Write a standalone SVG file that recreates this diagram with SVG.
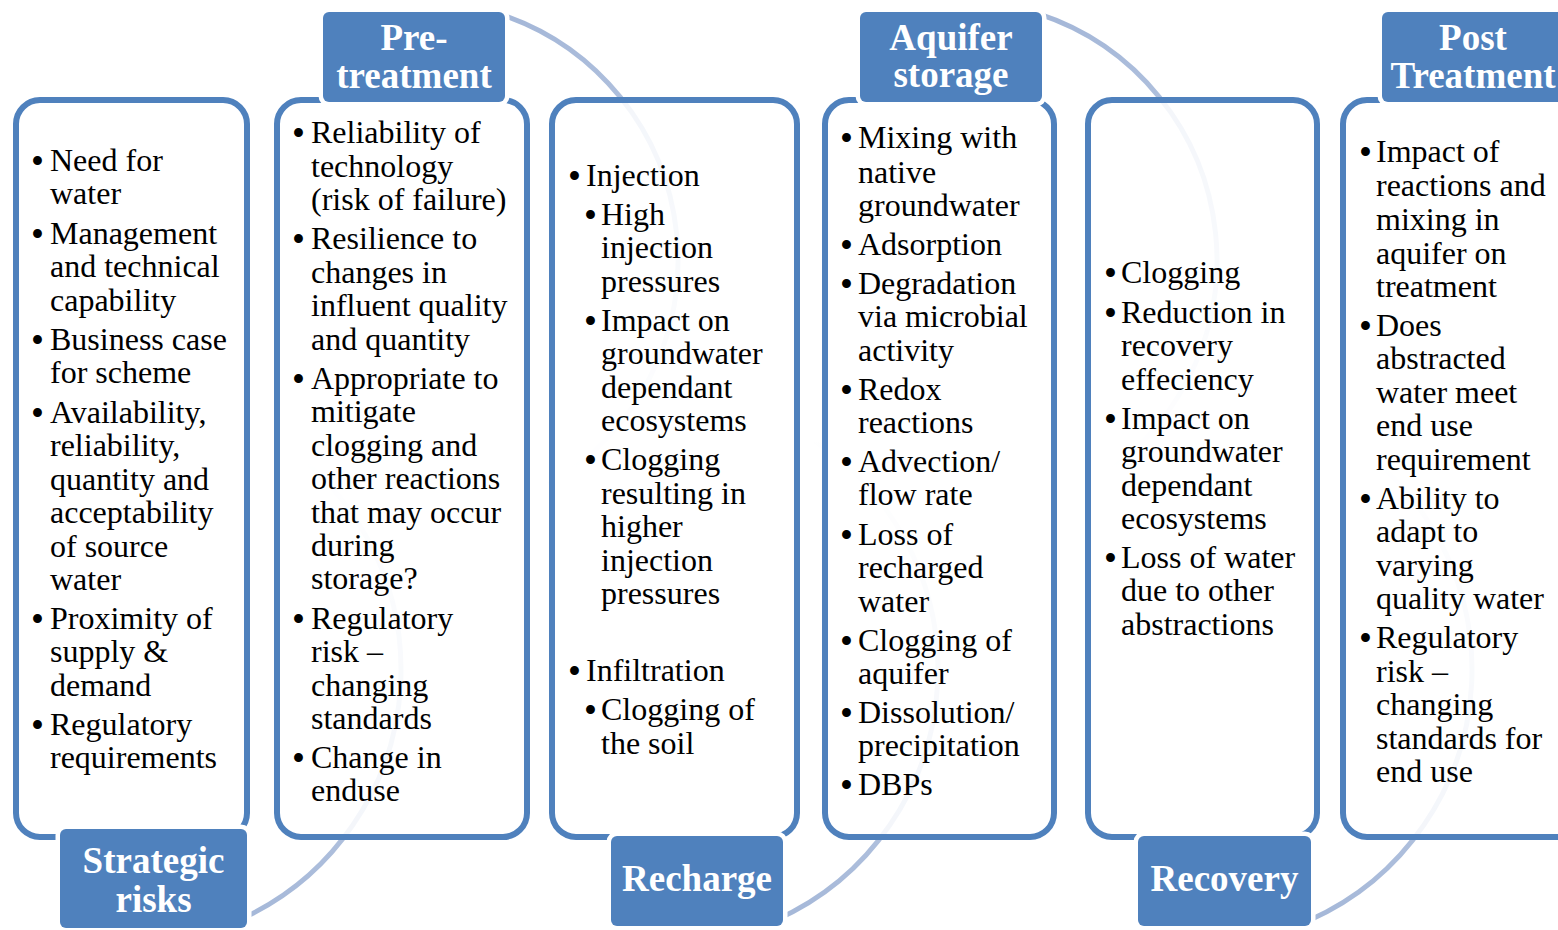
<svg xmlns="http://www.w3.org/2000/svg" width="1558" height="930" viewBox="0 0 1558 930">
<defs>
<linearGradient id="gB" gradientUnits="userSpaceOnUse" x1="0" y1="930" x2="0" y2="440">
<stop offset="0" stop-color="#a4b7d8" stop-opacity="1"/>
<stop offset="0.25" stop-color="#a4b7d8" stop-opacity="0.85"/>
<stop offset="1" stop-color="#a4b7d8" stop-opacity="0"/>
</linearGradient>
<linearGradient id="gT" gradientUnits="userSpaceOnUse" x1="0" y1="10" x2="0" y2="490">
<stop offset="0" stop-color="#a4b7d8" stop-opacity="1"/>
<stop offset="0.25" stop-color="#a4b7d8" stop-opacity="0.85"/>
<stop offset="1" stop-color="#a4b7d8" stop-opacity="0"/>
</linearGradient>
<style>
.box{fill:#fff;fill-opacity:0.86;stroke:#4f81bd;stroke-width:6}
.lbl{fill:#4f81bd;stroke:#fff;stroke-width:9;paint-order:stroke}
.lt{font-family:"Liberation Serif","Times New Roman",serif;font-weight:bold;font-size:37px;fill:#fff;text-anchor:middle}
.t{font-family:"Liberation Serif","Times New Roman",serif;font-size:32px;fill:#000}
.b{font-size:37px;baseline-shift:-3px}
.arcB{fill:none;stroke:url(#gB);stroke-width:5}
.arcT{fill:none;stroke:url(#gT);stroke-width:5}
</style>
</defs>
<rect width="1558" height="930" fill="#fff"/>
<g id="connectors">
<path class="arcB" d="M238.4,920.3 A274,274 0 0 0 264,432.7"/>
<path class="arcT" d="M499,13.7 A259,259 0 0 1 548.5,484.3"/>
<path class="arcB" d="M775.4,920.3 A274,274 0 0 0 801,432.7"/>
<path class="arcT" d="M1038,13.7 A259,259 0 0 1 1087.5,484.3"/>
<path class="arcB" d="M1309.4,920.3 A274,274 0 0 0 1335,432.7"/>
</g>
<g id="strategic">
<rect class="box" x="16" y="100" width="231" height="737" rx="24"/>
<text class="t">
<tspan class="b" x="31" y="171">•</tspan><tspan x="50" y="171">Need for</tspan><tspan x="50" y="204">water</tspan>
<tspan class="b" x="31" y="244">•</tspan><tspan x="50" y="244">Management</tspan><tspan x="50" y="277">and technical</tspan><tspan x="50" y="311">capability</tspan>
<tspan class="b" x="31" y="350">•</tspan><tspan x="50" y="350">Business case</tspan><tspan x="50" y="383">for scheme</tspan>
<tspan class="b" x="31" y="423">•</tspan><tspan x="50" y="423">Availability,</tspan><tspan x="50" y="456">reliability,</tspan><tspan x="50" y="490">quantity and</tspan><tspan x="50" y="523">acceptability</tspan><tspan x="50" y="557">of source</tspan><tspan x="50" y="590">water</tspan>
<tspan class="b" x="31" y="629">•</tspan><tspan x="50" y="629">Proximity of</tspan><tspan x="50" y="662">supply &amp;</tspan><tspan x="50" y="696">demand</tspan>
<tspan class="b" x="31" y="735">•</tspan><tspan x="50" y="735">Regulatory</tspan><tspan x="50" y="768">requirements</tspan>
</text>
<rect class="lbl" x="60" y="829" width="187" height="99" rx="6"/>
<text class="lt"><tspan x="153.5" y="873">Strategic</tspan><tspan x="153.5" y="912">risks</tspan></text>
</g>
<g id="pretreatment">
<rect class="box" x="277" y="100" width="250" height="737" rx="24"/>
<text class="t">
<tspan class="b" x="292" y="143">•</tspan><tspan x="311" y="143">Reliability of</tspan><tspan x="311" y="177">technology</tspan><tspan x="311" y="210">(risk of failure)</tspan>
<tspan class="b" x="292" y="249">•</tspan><tspan x="311" y="249">Resilience to</tspan><tspan x="311" y="283">changes in</tspan><tspan x="311" y="316">influent quality</tspan><tspan x="311" y="350">and quantity</tspan>
<tspan class="b" x="292" y="389">•</tspan><tspan x="311" y="389">Appropriate to</tspan><tspan x="311" y="422">mitigate</tspan><tspan x="311" y="456">clogging and</tspan><tspan x="311" y="489">other reactions</tspan><tspan x="311" y="523">that may occur</tspan><tspan x="311" y="556">during</tspan><tspan x="311" y="589">storage?</tspan>
<tspan class="b" x="292" y="629">•</tspan><tspan x="311" y="629">Regulatory</tspan><tspan x="311" y="662">risk –</tspan><tspan x="311" y="696">changing</tspan><tspan x="311" y="729">standards</tspan>
<tspan class="b" x="292" y="768">•</tspan><tspan x="311" y="768">Change in</tspan><tspan x="311" y="801">enduse</tspan>
</text>
<rect class="lbl" x="323" y="12" width="182" height="90" rx="6"/>
<text class="lt"><tspan x="414" y="50">Pre-</tspan><tspan x="414" y="88">treatment</tspan></text>
</g>
<g id="recharge">
<rect class="box" x="552" y="100" width="245" height="737" rx="24"/>
<text class="t">
<tspan class="b" x="568" y="186">•</tspan><tspan x="586" y="186">Injection</tspan>
<tspan class="b" x="584" y="225">•</tspan><tspan x="601" y="225">High</tspan><tspan x="601" y="258">injection</tspan><tspan x="601" y="292">pressures</tspan>
<tspan class="b" x="584" y="331">•</tspan><tspan x="601" y="331">Impact on</tspan><tspan x="601" y="364">groundwater</tspan><tspan x="601" y="398">dependant</tspan><tspan x="601" y="431">ecosystems</tspan>
<tspan class="b" x="584" y="470">•</tspan><tspan x="601" y="470">Clogging</tspan><tspan x="601" y="504">resulting in</tspan><tspan x="601" y="537">higher</tspan><tspan x="601" y="571">injection</tspan><tspan x="601" y="604">pressures</tspan>
<tspan class="b" x="568" y="681">•</tspan><tspan x="586" y="681">Infiltration</tspan>
<tspan class="b" x="584" y="720">•</tspan><tspan x="601" y="720">Clogging of</tspan><tspan x="601" y="754">the soil</tspan>
</text>
<rect class="lbl" x="611" y="836" width="172" height="90" rx="6"/>
<text class="lt"><tspan x="697" y="891">Recharge</tspan></text>
</g>
<g id="aquifer">
<rect class="box" x="825" y="100" width="229" height="737" rx="24"/>
<text class="t">
<tspan class="b" x="840" y="148">•</tspan><tspan x="858" y="148">Mixing with</tspan><tspan x="858" y="183">native</tspan><tspan x="858" y="216">groundwater</tspan>
<tspan class="b" x="840" y="255">•</tspan><tspan x="858" y="255">Adsorption</tspan>
<tspan class="b" x="840" y="294">•</tspan><tspan x="858" y="294">Degradation</tspan><tspan x="858" y="327">via microbial</tspan><tspan x="858" y="361">activity</tspan>
<tspan class="b" x="840" y="400">•</tspan><tspan x="858" y="400">Redox</tspan><tspan x="858" y="433">reactions</tspan>
<tspan class="b" x="840" y="472">•</tspan><tspan x="858" y="472">Advection/</tspan><tspan x="858" y="505">flow rate</tspan>
<tspan class="b" x="840" y="545">•</tspan><tspan x="858" y="545">Loss of</tspan><tspan x="858" y="578">recharged</tspan><tspan x="858" y="612">water</tspan>
<tspan class="b" x="840" y="651">•</tspan><tspan x="858" y="651">Clogging of</tspan><tspan x="858" y="684">aquifer</tspan>
<tspan class="b" x="840" y="723">•</tspan><tspan x="858" y="723">Dissolution/</tspan><tspan x="858" y="756">precipitation</tspan>
<tspan class="b" x="840" y="795">•</tspan><tspan x="858" y="795">DBPs</tspan>
</text>
<rect class="lbl" x="860" y="12" width="182" height="90" rx="6"/>
<text class="lt"><tspan x="951" y="50">Aquifer</tspan><tspan x="951" y="87">storage</tspan></text>
</g>
<g id="recovery">
<rect class="box" x="1088" y="100" width="229" height="737" rx="24"/>
<text class="t">
<tspan class="b" x="1104" y="283">•</tspan><tspan x="1121" y="283">Clogging</tspan>
<tspan class="b" x="1104" y="323">•</tspan><tspan x="1121" y="323">Reduction in</tspan><tspan x="1121" y="356">recovery</tspan><tspan x="1121" y="390">effeciency</tspan>
<tspan class="b" x="1104" y="429">•</tspan><tspan x="1121" y="429">Impact on</tspan><tspan x="1121" y="462">groundwater</tspan><tspan x="1121" y="496">dependant</tspan><tspan x="1121" y="529">ecosystems</tspan>
<tspan class="b" x="1104" y="568">•</tspan><tspan x="1121" y="568">Loss of water</tspan><tspan x="1121" y="601">due to other</tspan><tspan x="1121" y="635">abstractions</tspan>
</text>
<rect class="lbl" x="1138" y="836" width="173" height="90" rx="6"/>
<text class="lt"><tspan x="1224.5" y="891">Recovery</tspan></text>
</g>
<g id="posttreatment">
<rect class="box" x="1343" y="100" width="240" height="737" rx="24"/>
<text class="t">
<tspan class="b" x="1359" y="162">•</tspan><tspan x="1376" y="162">Impact of</tspan><tspan x="1376" y="196">reactions and</tspan><tspan x="1376" y="230">mixing in</tspan><tspan x="1376" y="264">aquifer on</tspan><tspan x="1376" y="297">treatment</tspan>
<tspan class="b" x="1359" y="336">•</tspan><tspan x="1376" y="336">Does</tspan><tspan x="1376" y="369">abstracted</tspan><tspan x="1376" y="403">water meet</tspan><tspan x="1376" y="436">end use</tspan><tspan x="1376" y="470">requirement</tspan>
<tspan class="b" x="1359" y="509">•</tspan><tspan x="1376" y="509">Ability to</tspan><tspan x="1376" y="542">adapt to</tspan><tspan x="1376" y="576">varying</tspan><tspan x="1376" y="609">quality water</tspan>
<tspan class="b" x="1359" y="648">•</tspan><tspan x="1376" y="648">Regulatory</tspan><tspan x="1376" y="682">risk –</tspan><tspan x="1376" y="715">changing</tspan><tspan x="1376" y="749">standards for</tspan><tspan x="1376" y="782">end use</tspan>
</text>
<rect class="lbl" x="1382" y="12" width="190" height="90" rx="6"/>
<text class="lt"><tspan x="1473" y="50">Post</tspan><tspan x="1473" y="88">Treatment</tspan></text>
</g>
</svg>
